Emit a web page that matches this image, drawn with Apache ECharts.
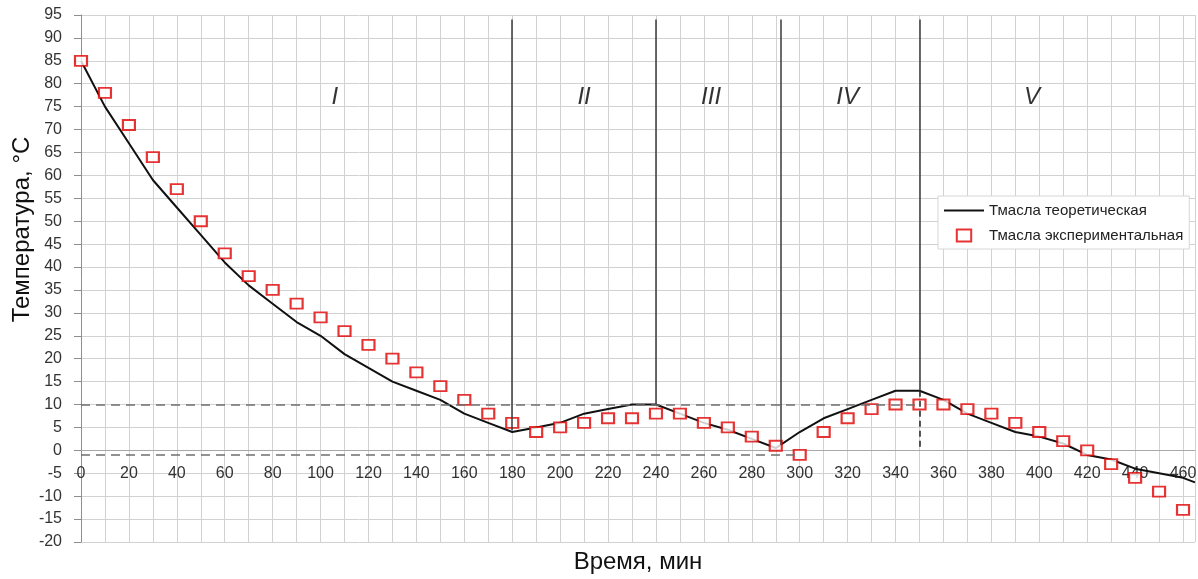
<!DOCTYPE html>
<html>
<head>
<meta charset="utf-8">
<script src="https://cdn.jsdelivr.net/npm/echarts@6/dist/echarts.min.js"></script>
<style>
html,body{margin:0;padding:0;background:#fff;}
#chart{width:1198px;height:579px;}
</style>
</head>
<body>
<div id="chart"></div>
<script>
// time, min
const times = [0,10,20,30,40,50,60,70,80,90,100,110,120,130,140,150,160,170,180,190,200,210,220,230,240,250,260,270,280,290,300,310,320,330,340,350,360,370,380,390,400,410,420,430,440,450,460];
// theoretical oil temperature
const theoTemp = [85,75,67,59,53,47,41,36,32,28,25,21,18,15,13,11,8,6,4,5,6,8,9,10,10,8,6,4.5,2.5,0.5,4,7,9,11,13,13,11,8,6,4,3,1.5,-1,-2,-4,-5,-6];
const theoTail = [465, -7];
// experimental oil temperature
const expTemp = [85,78,71,64,57,50,43,38,35,32,29,26,23,20,17,14,11,8,6,4,5,6,7,7,8,8,6,5,3,1,-1,4,7,9,10,10,10,9,8,6,4,2,0,-3,-6,-9,-13];

// stage boundaries
const stageBounds = [180, 240, 292, 350];
const stageBottom = [4.4, 10, 1.2, 13];
const stageTop = 94;
const stageNames = ['I','II','III','IV','V'];
const stageNameX = [106, 210, 263, 320, 397];
const stageNameY = 77;
// dashed reference lines
const refLevels = [10, -1];
const refEnds = [350, 298];
const dashedDrop = [350, 13, 0];

const yTicks = [-20,-15,-10,-5,0,5,10,15,20,25,30,35,40,45,50,55,60,65,70,75,80,85,90,95];
const xLabelStep = 20;

const theoData = times.map((t, i) => [t, theoTemp[i]]).concat([theoTail]);
const expData = times.map((t, i) => [t, expTemp[i]]);

const markLines = [];
stageBounds.forEach((x, i) => {
  markLines.push([{coord: [x, stageTop], lineStyle: {color: '#3a3a3a', width: 1.5, type: 'solid'}}, {coord: [x, stageBottom[i]]}]);
});
refLevels.forEach((y, i) => {
  markLines.push([{coord: [0, y], lineStyle: {color: '#6f6f6f', width: 1.5, type: [9, 6]}}, {coord: [refEnds[i], y]}]);
});
markLines.push([{coord: [dashedDrop[0], dashedDrop[1]], lineStyle: {color: '#222', width: 1.5, type: [6, 4]}}, {coord: [dashedDrop[0], dashedDrop[2]]}]);

const FONT = 'Liberation Sans, Arial, sans-serif';
const GRID_TOP = 15, GRID_H = 527;

const chart = echarts.init(document.getElementById('chart'), null, {renderer: 'canvas'});
const option = {
  backgroundColor: '#fff',
  animation: false,
  grid: {left: 81, top: GRID_TOP, width: 1114, height: GRID_H, containLabel: false, outerBoundsMode: 'none'},
  legend: {
    orient: 'vertical',
    left: 938, top: 196,
    padding: [7, 6, 6, 6],
    itemGap: 10,
    itemWidth: 40,
    itemHeight: 12,
    itemTextGap: 4,
    backgroundColor: '#fff',
    borderColor: '#d6d6d6',
    borderWidth: 1,
    borderRadius: 0,
    textStyle: {fontFamily: FONT, fontSize: 15, color: '#222'},
    data: [
      {name: 'Тмасла теоретическая', icon: 'path://M0,0H40V2H0Z', itemStyle: {color: '#111'}},
      {name: 'Тмасла экспериментальная', icon: 'path://M0,0H12V10H0Z'}
    ]
  },
  xAxis: {
    type: 'value', min: 0, max: 465, interval: 10,
    name: 'Время, мин', nameLocation: 'middle', nameGap: 100, nameMoveOverlap: false,
    nameTextStyle: {fontFamily: FONT, fontSize: 24, color: '#111'},
    axisLine: {show: true, onZero: false, lineStyle: {color: '#a8a8a8', width: 1}},
    axisTick: {show: false},
    axisLabel: {
      margin: 15, fontFamily: FONT, fontSize: 16, color: '#333',
      showMaxLabel: false,
      formatter: v => (v % xLabelStep === 0 ? String(v) : '')
    },
    splitLine: {show: true, lineStyle: {color: '#d2d2d2', width: 1}}
  },
  yAxis: {
    type: 'value', min: -20, max: 95, interval: 5,
    name: 'Температура, °C', nameLocation: 'middle', nameGap: 47, nameRotate: 90, nameMoveOverlap: false,
    nameTextStyle: {fontFamily: FONT, fontSize: 24, color: '#111', padding: [0, 0, 0, 98]},
    axisLine: {show: true, lineStyle: {color: '#8e8e8e', width: 1}},
    axisTick: {show: true, length: 7, lineStyle: {color: '#8e8e8e'}},
    axisLabel: {margin: 19, fontFamily: FONT, fontSize: 16, color: '#333',
      formatter: v => (yTicks.indexOf(v) >= 0 ? String(v) : '')},
    splitLine: {show: true, lineStyle: {color: '#d2d2d2', width: 1}}
  },
  series: [
    {
      name: 'Тмасла теоретическая',
      type: 'line',
      data: theoData,
      showSymbol: false,
      symbol: 'none',
      lineStyle: {color: '#111', width: 2},
      itemStyle: {color: '#111'},
      z: 3,
      markLine: {
        silent: true, symbol: ['none', 'none'],
        label: {show: false},
        emphasis: {disabled: true},
        data: markLines
      }
    },
    {
      name: 'Тмасла экспериментальная',
      type: 'scatter',
      data: expData,
      symbol: 'rect',
      symbolSize: [12, 10],
      itemStyle: {color: '#fff', borderColor: '#e00000', borderWidth: 2},
      z: 4
    },
    {
      name: 'stages',
      type: 'scatter',
      data: stageNames.map((n, i) => ({value: [stageNameX[i], stageNameY], name: n})),
      symbolSize: 1,
      itemStyle: {color: 'rgba(0,0,0,0)'},
      silent: true,
      label: {
        show: true, position: 'inside',
        formatter: p => p.name,
        fontFamily: FONT, fontSize: 24, fontStyle: 'italic', color: '#000'
      },
      z: 5
    }
  ]
};
chart.setOption(option);
// move the x axis (line + labels) up to the zero level of the y axis, as in the reference
const zeroY = chart.convertToPixel({yAxisIndex: 0}, 0);
const bottomY = GRID_TOP + GRID_H;
const shift = bottomY - zeroY;
chart.setOption({xAxis: {offset: -shift, nameGap: 100}});
</script>
</body>
</html>
